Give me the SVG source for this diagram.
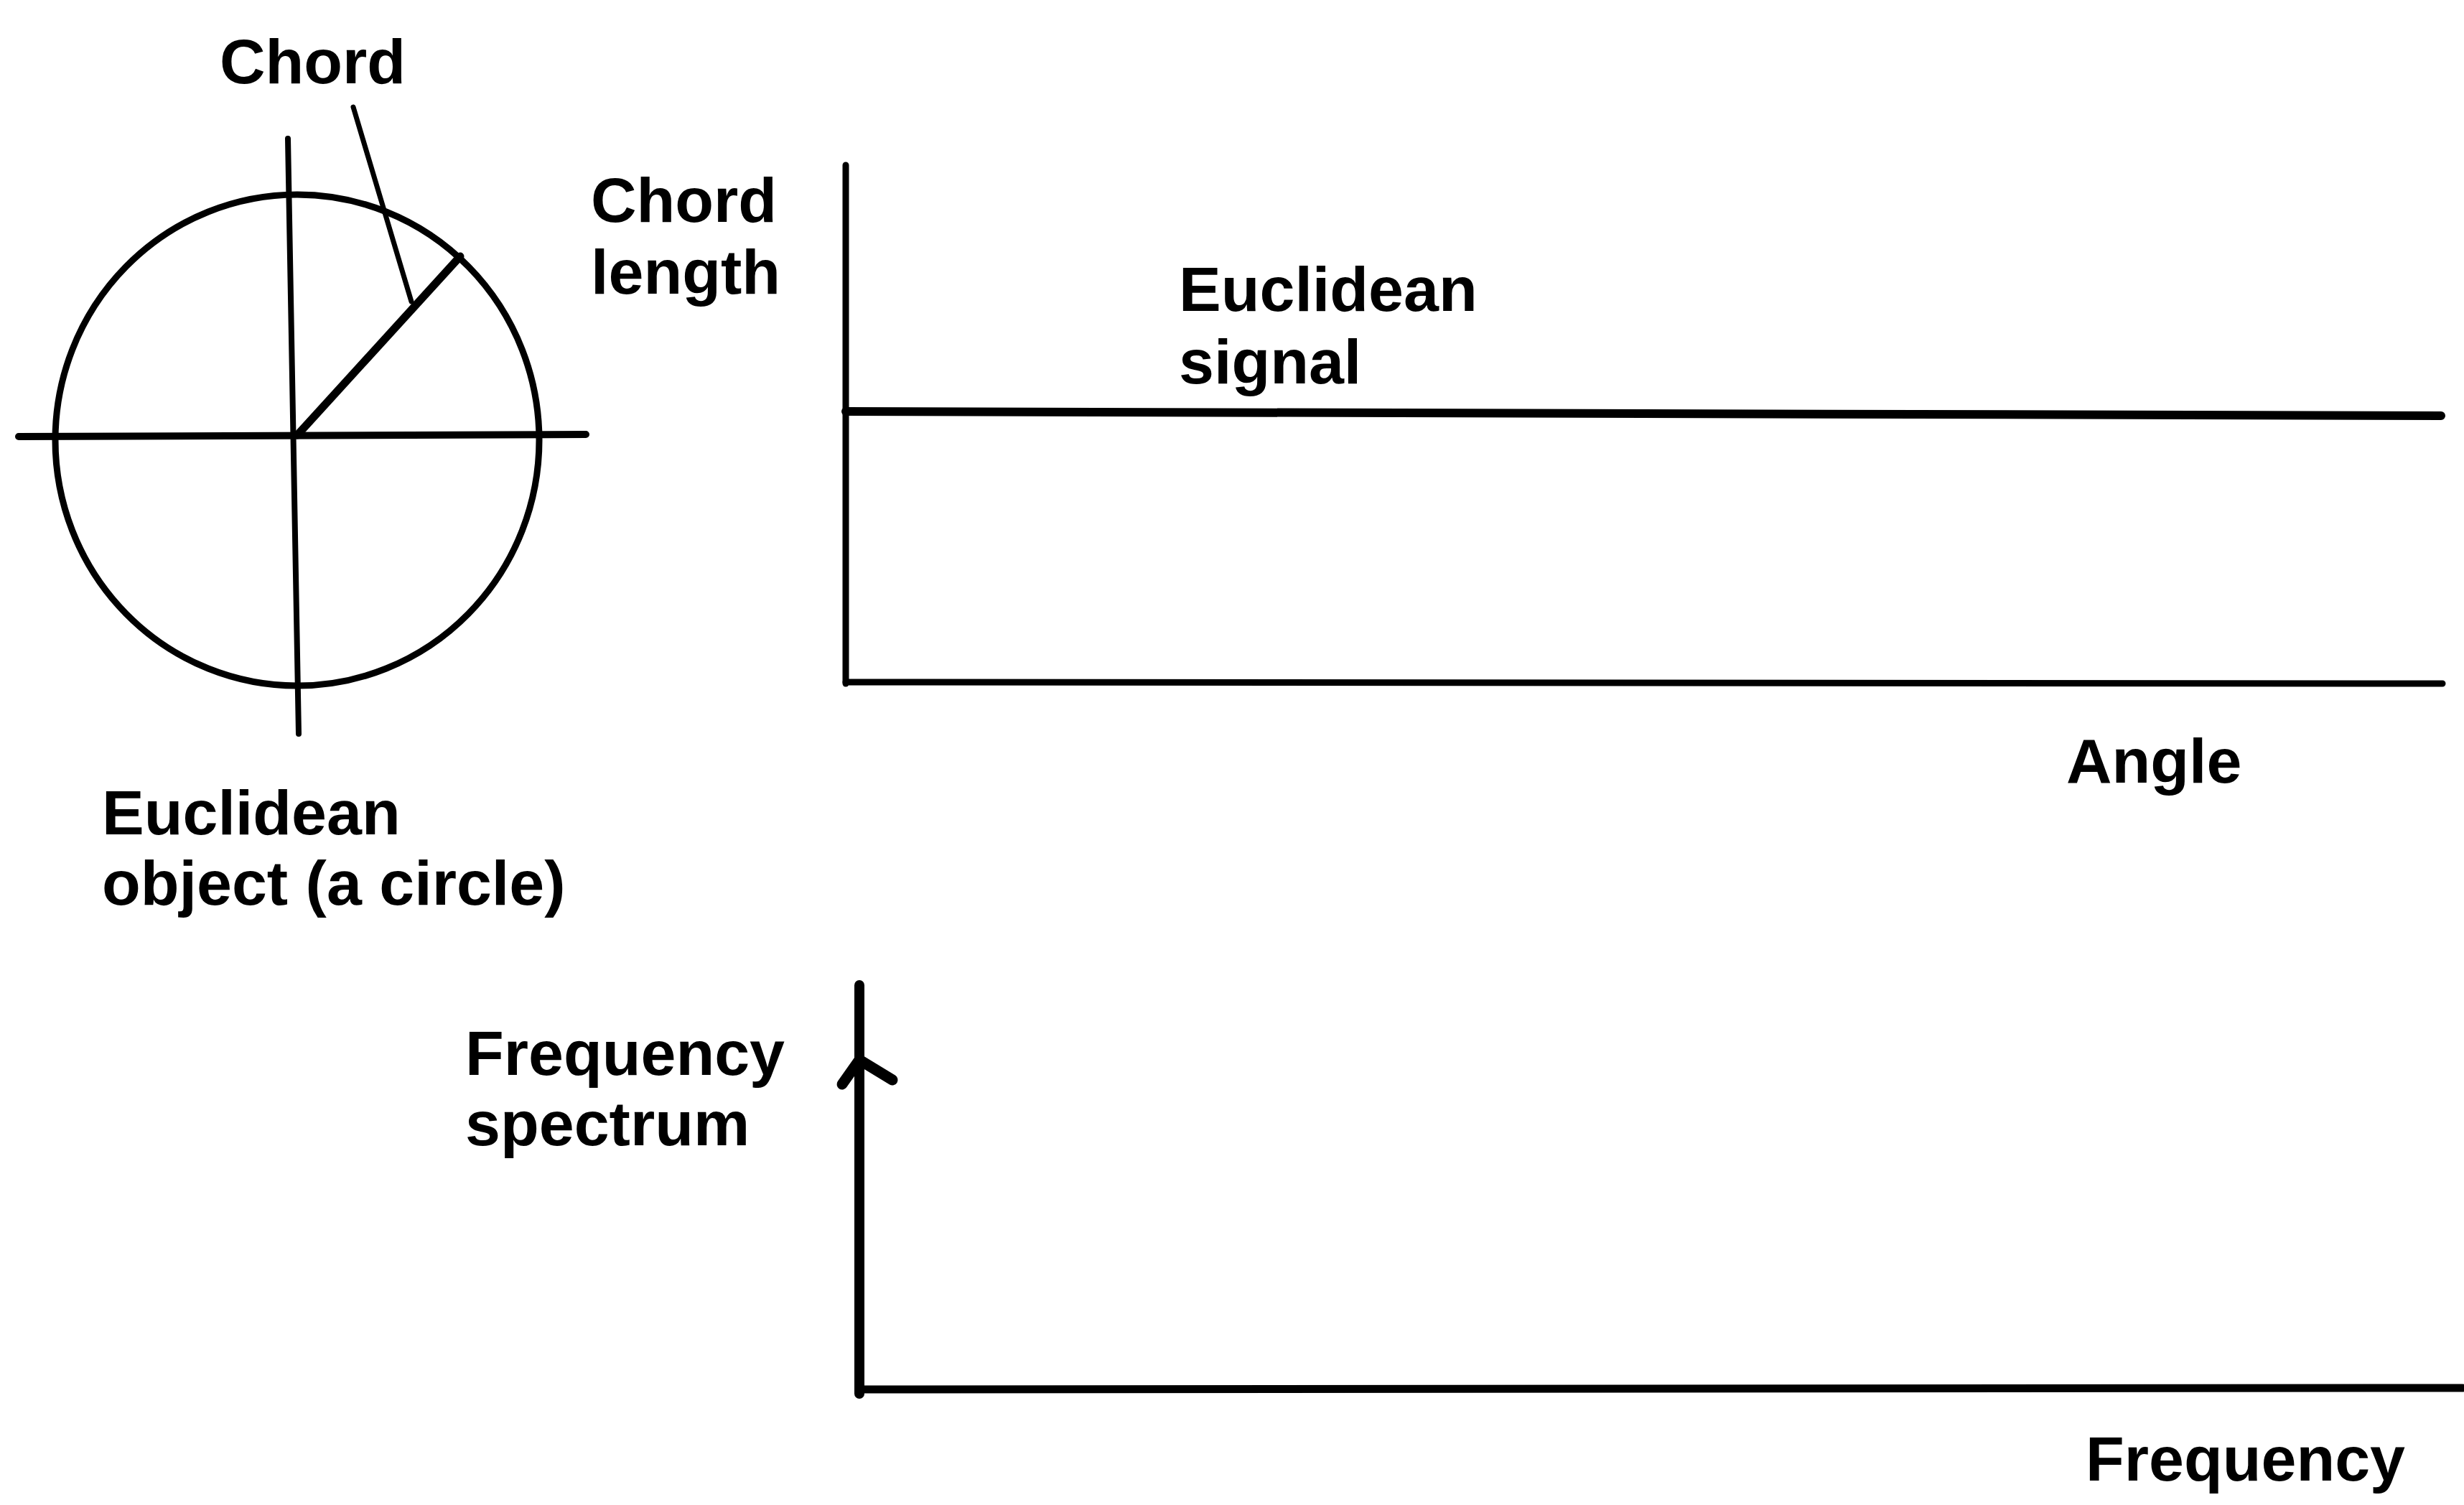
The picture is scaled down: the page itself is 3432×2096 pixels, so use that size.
<svg xmlns="http://www.w3.org/2000/svg" width="3432" height="2096" viewBox="0 0 3432 2096">
<style>
.t{font-family:"Liberation Sans",Arial,sans-serif;font-weight:bold;font-size:88px;fill:#000}
.ln{stroke:#000;fill:none;stroke-linecap:round}
</style>
<rect width="3432" height="2096" fill="#fff"/>
<g id="circle-figure">
<ellipse class="ln" cx="414" cy="613" rx="337" ry="342" stroke-width="9"/>
<line class="ln" x1="26" y1="608" x2="816" y2="605" stroke-width="10"/>
<line class="ln" x1="401" y1="193" x2="416" y2="1022" stroke-width="8"/>
<line class="ln" x1="414" y1="606" x2="641" y2="357" stroke-width="11"/>
<line class="ln" x1="492" y1="149" x2="573" y2="420" stroke-width="7"/>
<text class="t" x="306" y="116">Chord</text>
<text class="t" x="142" y="1162">Euclidean</text>
<text class="t" x="142" y="1260">object (a circle)</text>
</g>
<g id="signal-graph">
<line class="ln" x1="1178" y1="230" x2="1178" y2="952" stroke-width="9"/>
<line class="ln" x1="1178" y1="950" x2="3402" y2="952" stroke-width="9"/>
<line class="ln" x1="1178" y1="573" x2="3400" y2="579" stroke-width="12"/>
<text class="t" x="823" y="309">Chord</text>
<text class="t" x="823" y="409">length</text>
<text class="t" x="1642" y="433">Euclidean</text>
<text class="t" x="1642" y="534">signal</text>
<text class="t" x="2878" y="1090">Angle</text>
</g>
<g id="spectrum-graph">
<line class="ln" x1="1197" y1="1372" x2="1197" y2="1941" stroke-width="14"/>
<line class="ln" x1="1197" y1="1935" x2="3430" y2="1933" stroke-width="11"/>
<polyline class="ln" points="1173,1510 1197,1476 1243,1504" stroke-width="15" stroke-linejoin="round"/>
<text class="t" x="648" y="1497">Frequency</text>
<text class="t" x="648" y="1595">spectrum</text>
<text class="t" x="2905" y="2062">Frequency</text>
</g>
</svg>
